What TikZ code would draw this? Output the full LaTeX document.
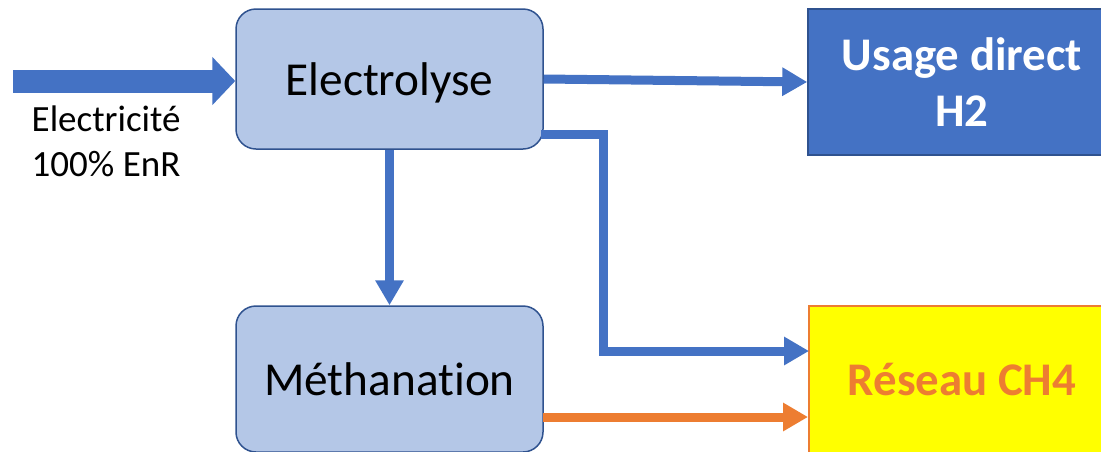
\documentclass[tikz,border=0pt]{standalone}
\usepackage{fontspec}
\setmainfont[Ligatures=NoCommon]{Carlito}
\usetikzlibrary{arrows.meta,calc}
\definecolor{mso}{HTML}{4472C4}
\definecolor{msolight}{HTML}{B4C7E7}
\definecolor{msodark}{HTML}{2F528F}
\definecolor{msoorange}{HTML}{ED7D31}
\definecolor{msoyellow}{RGB}{255,255,0}
\tikzset{
  procbox/.style={draw=msodark,line width=1.5pt,fill=msolight,rounded corners=20pt,minimum width=307pt,text=black,inner sep=0pt,font=\fontsize{47.3}{54}\selectfont},
  flow/.style={draw=mso,line width=9pt,-{Triangle[length=25pt,width=27pt]}},
}
\begin{document}
\begin{tikzpicture}[x=1pt,y=-1pt]
\useasboundingbox (0,0) rectangle (1101,451);
\fill[white] (0,0) rectangle (1101,451);
\node[procbox,minimum height=140pt] (elec) at (389.5,79) {\raisebox{-16pt}[0pt][0pt]{Electrolyse}};
\node[procbox,minimum height=146pt] (meth) at (389.5,379) {\raisebox{-16pt}[0pt][0pt]{Méthanation}};
\node[draw=msodark,line width=1.5pt,fill=mso,text=white,inner sep=0pt,minimum width=308pt,minimum height=146pt,align=center,font=\fontsize{46.8}{56}\selectfont\bfseries] (usage) at (962,82) {Usage direct\\H2};
\node[draw=msoorange,line width=1.5pt,fill=msoyellow,text=msoorange,inner sep=0pt,minimum width=306pt,minimum height=148pt,font=\fontsize{46.8}{54}\selectfont\bfseries] (res) at (962,380) {Réseau CH4};
\coordinate (in) at (13,81);
\coordinate (bend1s) at (541,134);
\coordinate (bend1a) at (603,134);
\coordinate (bend1b) at (603,351);
\coordinate (resin) at (809,351);
\coordinate (methout) at (543,417);
\coordinate (resin2) at (808,417);
\draw[draw=mso,line width=23pt,-{Triangle[length=23pt,width=47pt]}] (in) -- (elec.west|-in);
\draw[flow] (elec.east) -- (usage.west);
\draw[flow,line join=miter] (bend1s) -- (bend1a) -- (bend1b) -- (resin);
\draw[flow] (elec.south) -- (meth.north);
\draw[flow,draw=msoorange] (methout) -- (resin2);
\node[anchor=north west,inner sep=0pt,align=left,text=black,font=\fontsize{37}{45}\selectfont] (lab) at (31.5,106) {Electricité\\100\% EnR};
\end{tikzpicture}
\end{document}
